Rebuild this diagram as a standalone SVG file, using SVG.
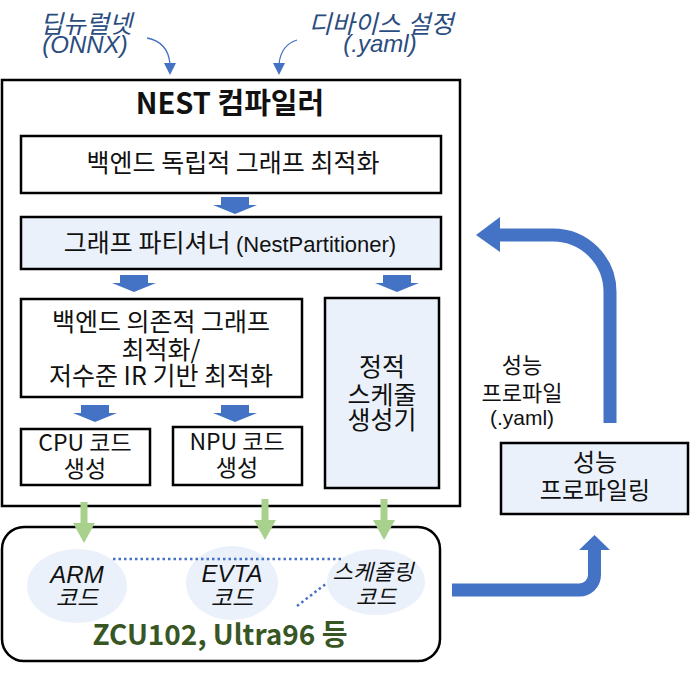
<svg xmlns="http://www.w3.org/2000/svg" width="690" height="676" viewBox="0 0 690 676">
<style>
.box{fill:#ffffff;stroke:#000;stroke-width:2.5}
.lb{fill:#EAF1FA;stroke:#000;stroke-width:2.5}
.t{font-family:"Noto Sans CJK KR","Noto Sans",sans-serif;font-size:25px;fill:#111;text-anchor:middle}
.it{font-family:"Liberation Sans","Noto Sans CJK KR",sans-serif;font-style:italic;font-size:24px;fill:#111;text-anchor:middle}
.lab{font-family:"Liberation Sans","Noto Sans CJK KR",sans-serif;font-style:italic;font-size:24px;fill:#2B4C7E;text-anchor:middle}
.ell{fill:#EAF1FA}
.blue{fill:#4472C4}
.green{fill:#A9D18E}
</style>
<defs>
<path id="barrow" d="M-14,0 H14 V8 H22 L0,17 L-22,8 H-14 Z"/>
<path id="garrow" d="M-3.5,0 H3.5 V21 H11 L0,41 L-11,21 H-3.5 Z"/>
</defs>

<g id="input-labels">
<text class="lab" x="86" y="33" style="font-size:25px">딥뉴럴넷</text>
<text class="lab" x="85" y="53">(ONNX)</text>
<text class="lab" x="381" y="33" style="font-size:25px">디바이스 설정</text>
<text class="lab" x="380" y="52">(.yaml)</text>
</g>

<g id="compiler">
<rect class="box" x="2" y="80" width="458" height="426"/>
<text class="t" x="230" y="114" style="font-weight:bold;font-size:29px">NEST 컴파일러</text>
</g>

<g id="node-indep">
<rect class="box" x="21" y="136" width="420" height="57"/>
<text class="t" x="233" y="172">백엔드 독립적 그래프 최적화</text>
</g>

<g id="node-partitioner">
<rect class="lb" x="21" y="217" width="420" height="52"/>
<text class="t" x="230" y="252">그래프 파티셔너 <tspan style="font-family:'Liberation Sans',sans-serif;font-size:22px">(NestPartitioner)</tspan></text>
</g>

<g id="node-dep">
<rect class="box" x="21" y="299" width="281" height="98"/>
<text class="t" x="161" y="331">백엔드 의존적 그래프</text>
<text class="t" x="161" y="359">최적화/</text>
<text class="t" x="161" y="385">저수준 IR 기반 최적화</text>
</g>

<g id="node-sched">
<rect class="lb" x="325" y="298" width="114" height="190"/>
<text class="t" x="382" y="376">정적</text>
<text class="t" x="382" y="404">스케줄</text>
<text class="t" x="382" y="429">생성기</text>
</g>

<g id="node-cpu">
<rect class="box" x="21" y="429" width="129" height="56"/>
<text class="t" x="85" y="451" style="font-size:23px">CPU 코드</text>
<text class="t" x="85" y="477" style="font-size:23px">생성</text>
</g>

<g id="node-npu">
<rect class="box" x="173" y="427" width="129" height="58"/>
<text class="t" x="237" y="450" style="font-size:23px">NPU 코드</text>
<text class="t" x="237" y="476" style="font-size:23px">생성</text>
</g>

<g id="node-target">
<rect x="2" y="527" width="438" height="134" rx="22" ry="22" fill="#fff" stroke="#000" stroke-width="2.5"/>
<ellipse class="ell" cx="77" cy="586" rx="50" ry="37"/>
<ellipse class="ell" cx="232" cy="583" rx="46" ry="37"/>
<ellipse class="ell" cx="376" cy="582" rx="49" ry="33"/>
<text class="it" x="77" y="583">ARM</text>
<text class="it" x="77" y="606" style="font-size:23px">코드</text>
<text class="it" x="232" y="582">EVTA</text>
<text class="it" x="232" y="606" style="font-size:23px">코드</text>
<text class="it" x="373" y="580" style="font-size:22px">스케줄링</text>
<text class="it" x="376" y="605" style="font-size:22px">코드</text>
<text class="t" x="220" y="645" style="font-weight:bold;font-size:28px;fill:#375623">ZCU102, Ultra96 등</text>
</g>

<g id="node-profiling">
<rect class="lb" x="501" y="443" width="187" height="71"/>
<text class="t" x="595" y="471" style="font-size:24px">성능</text>
<text class="t" x="595" y="499" style="font-size:24px">프로파일링</text>
</g>

<g id="connectors">
<path d="M147,38 Q168,42 170,64" fill="none" stroke="#4472C4" stroke-width="1.3"/>
<polygon class="blue" points="164,63 176,63 170,75"/>
<path d="M297,40 Q281,45 279,64" fill="none" stroke="#4472C4" stroke-width="1.3"/>
<polygon class="blue" points="273,63 285,63 279,75"/>

<use href="#barrow" class="blue" x="235" y="197"/>
<use href="#barrow" class="blue" x="134" y="275"/>
<use href="#barrow" class="blue" x="397" y="275"/>
<use href="#barrow" class="blue" x="95" y="405"/>
<use href="#barrow" class="blue" x="235" y="405"/>

<use href="#garrow" class="green" x="84" y="502"/>
<use href="#garrow" class="green" x="265" y="499"/>
<use href="#garrow" class="green" x="384" y="499"/>

<line x1="113" y1="559" x2="342" y2="559" stroke="#4472C4" stroke-width="2.5" stroke-dasharray="2.5 3"/>
<line x1="297" y1="606" x2="327" y2="583" stroke="#4472C4" stroke-width="2.5" stroke-dasharray="2.5 3"/>

<path d="M452,590 H579 A15,15 0 0 0 594.5,575 V549" fill="none" stroke="#4472C4" stroke-width="13"/>
<polygon class="blue" points="579,550 610,550 594.5,535"/>

<path d="M610,423 V292 A57,57 0 0 0 553,235 H499" fill="none" stroke="#4472C4" stroke-width="13"/>
<polygon class="blue" points="500,217 500,252 476,235"/>

<text class="t" x="522" y="373" style="font-size:22px">성능</text>
<text class="t" x="522" y="401" style="font-size:22px">프로파일</text>
<text class="t" x="522" y="425" style="font-family:'Liberation Sans',sans-serif;font-size:21px">(.yaml)</text>
</g>
</svg>
